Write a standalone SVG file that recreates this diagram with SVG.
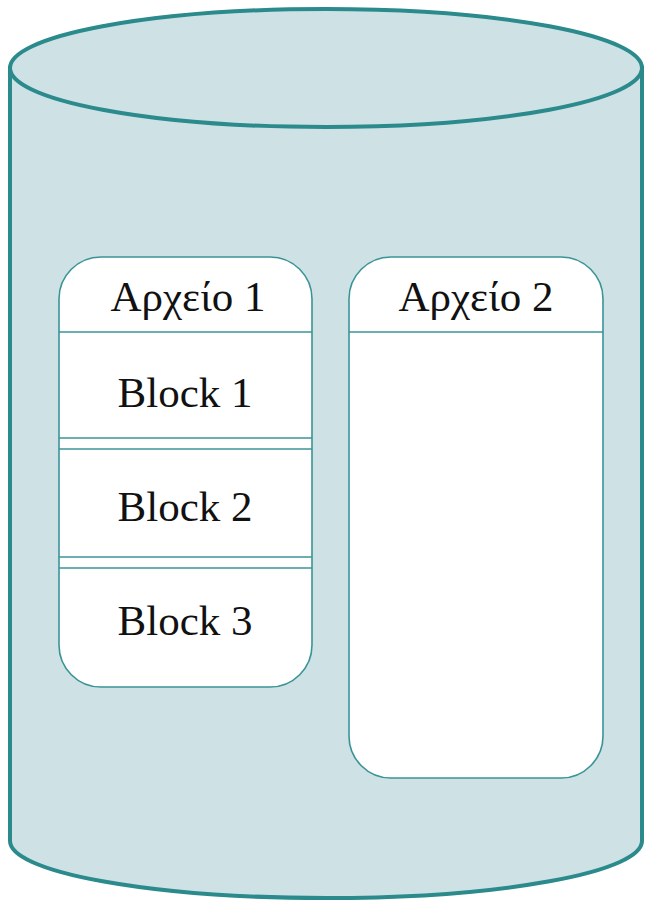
<svg xmlns="http://www.w3.org/2000/svg" width="652" height="900" viewBox="0 0 652 900">
<style>
.cyl{fill:#cee1e5;stroke:#2a8a8c;stroke-width:4}
.box{fill:#ffffff;stroke:#3a9496;stroke-width:1.6}
.ln{stroke:#3a9496;stroke-width:1.6;fill:none}
text{font-family:"Liberation Serif","Times New Roman",serif;font-size:43px;fill:#111;text-anchor:middle}
</style>
<g id="cylinder">
<path class="cyl" d="M10,68 L10,841 A316,57 0 0 0 642,841 L642,68 Z"/>
<ellipse class="cyl" cx="326" cy="68" rx="316" ry="59" stroke-width="3.5"/>
</g>
<g id="file1">
<path class="box" d="M59,332 L59,299 A42,42 0 0 1 101,257 L270,257 A42,42 0 0 1 312,299 L312,645 A42,42 0 0 1 270,687 L101,687 A42,42 0 0 1 59,645 Z"/>
<line class="ln" x1="59" y1="332" x2="312" y2="332"/>
<line class="ln" x1="59" y1="438" x2="312" y2="438"/>
<line class="ln" x1="59" y1="449" x2="312" y2="449"/>
<line class="ln" x1="59" y1="557" x2="312" y2="557"/>
<line class="ln" x1="59" y1="568" x2="312" y2="568"/>
<text x="188" y="311">Αρχείο 1</text>
<text x="185" y="407">Block 1</text>
<text x="185" y="521">Block 2</text>
<text x="185" y="635">Block 3</text>
</g>
<g id="file2">
<path class="box" d="M349,332 L349,299 A42,42 0 0 1 391,257 L561,257 A42,42 0 0 1 603,299 L603,736 A42,42 0 0 1 561,778 L391,778 A42,42 0 0 1 349,736 Z"/>
<line class="ln" x1="349" y1="332" x2="603" y2="332"/>
<text x="476" y="311">Αρχείο 2</text>
</g>
<g id="connectors"/>
</svg>
